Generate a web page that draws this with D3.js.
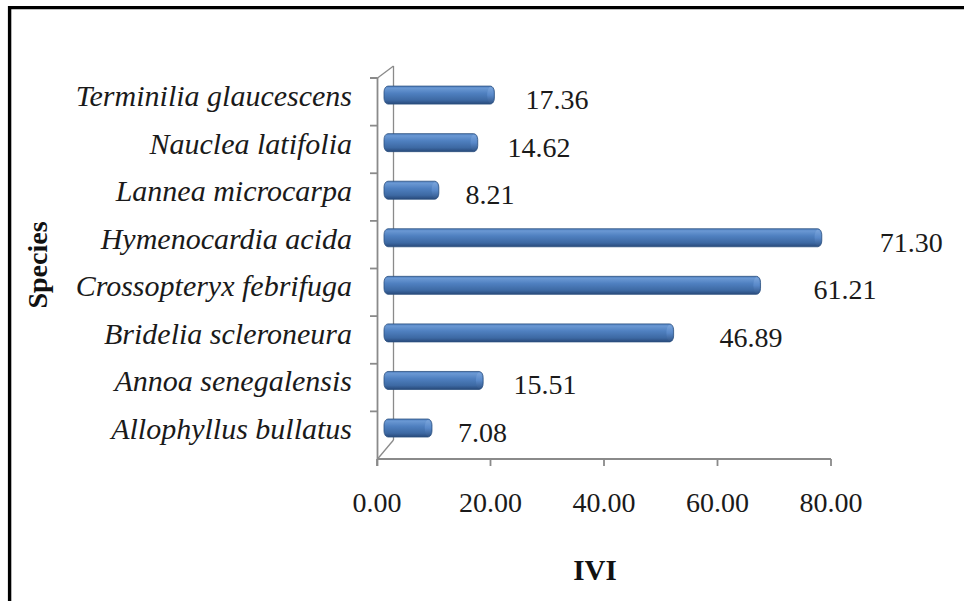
<!DOCTYPE html>
<html>
<head>
<meta charset="utf-8">
<script src="https://cdn.jsdelivr.net/npm/d3@7"></script>
<style>
  html, body { margin: 0; padding: 0; background: #fff; }
  svg { display: block; }
</style>
</head>
<body>
<svg id="chart" width="964" height="601"></svg>
<script>
// ---- data ----
const categories = [
  "Allophyllus bullatus",
  "Annoa senegalensis",
  "Bridelia scleroneura",
  "Crossopteryx febrifuga",
  "Hymenocardia acida",
  "Lannea microcarpa",
  "Nauclea latifolia",
  "Terminilia glaucescens"
];
const values = [7.08, 15.51, 46.89, 61.21, 71.30, 8.21, 14.62, 17.36];
const xTickValues = [0, 20, 40, 60, 80];
const xTickLabels = ["0.00", "20.00", "40.00", "60.00", "80.00"];
const xTitle = "IVI";
const yTitle = "Species";

// ---- layout ----
const svg = d3.select("#chart");
const serif = "'Liberation Serif', 'Times New Roman', serif";

// front (floor edge) scales for axes
const xAxisScale = d3.scaleLinear().domain([0, 80]).range([377, 831]);
const yAxisScale = d3.scaleBand().domain(categories).range([459, 78]);
// perspective plane for bars and data labels
const xBar = d3.scaleLinear().domain([0, 80]).range([389, 874.6]);
const xLabel = d3.scaleLinear().domain([0, 80]).range([411.5, 937]);
const yBar = d3.scaleBand().domain(categories).range([451.8, 71.3]);

// frame
svg.append("line").attr("x1", 8).attr("x2", 964).attr("y1", 7.6).attr("y2", 7.6)
  .attr("stroke", "#000").attr("stroke-width", 3.4);
svg.append("line").attr("x1", 9.6).attr("x2", 9.6).attr("y1", 6).attr("y2", 601)
  .attr("stroke", "#000").attr("stroke-width", 3.4);

// gradients
const defs = svg.append("defs");
const g1 = defs.append("linearGradient").attr("id", "barGrad")
  .attr("x1", 0).attr("y1", 0).attr("x2", 0).attr("y2", 1);
[["0%", "#4f7fbf"], ["12%", "#6a98d3"], ["40%", "#4f80c0"], ["78%", "#3d69a3"], ["100%", "#28497a"]]
  .forEach(([o, c]) => g1.append("stop").attr("offset", o).attr("stop-color", c));
const g2 = defs.append("linearGradient").attr("id", "capGrad")
  .attr("x1", 0).attr("y1", 0).attr("x2", 0).attr("y2", 1);
[["0%", "#7ea7dc"], ["50%", "#5b8bcc"], ["100%", "#35598b"]]
  .forEach(([o, c]) => g2.append("stop").attr("offset", o).attr("stop-color", c));

const axisColor = "#8a8a8a";
const topEdge = d3.min(yAxisScale.range());
const botEdge = d3.max(yAxisScale.range());

// back wall line + depth diagonals
svg.append("line").attr("x1", 393.5).attr("x2", 393.5).attr("y1", 66).attr("y2", 440)
  .attr("stroke", axisColor).attr("stroke-width", 1.3);
svg.append("line").attr("x1", 377.5).attr("y1", topEdge).attr("x2", 393.5).attr("y2", 66)
  .attr("stroke", axisColor).attr("stroke-width", 1.3);
svg.append("line").attr("x1", 377.5).attr("y1", botEdge).attr("x2", 393.5).attr("y2", 440)
  .attr("stroke", axisColor).attr("stroke-width", 1.3);

// left axis line and boundary ticks
svg.append("line").attr("x1", 377.5).attr("x2", 377.5).attr("y1", topEdge).attr("y2", botEdge + 7)
  .attr("stroke", axisColor).attr("stroke-width", 1.8);
const bounds = categories.map(c => yAxisScale(c)).concat([topEdge]);
svg.append("g").selectAll("line").data(bounds).join("line")
  .attr("x1", 370).attr("x2", 377.5).attr("y1", d => d).attr("y2", d => d)
  .attr("stroke", axisColor).attr("stroke-width", 1.8);

// x axis
svg.append("line").attr("x1", xAxisScale(0)).attr("x2", xAxisScale(80)).attr("y1", botEdge).attr("y2", botEdge)
  .attr("stroke", axisColor).attr("stroke-width", 1.8);
svg.append("g").selectAll("line").data(xTickValues).join("line")
  .attr("x1", d => xAxisScale(d)).attr("x2", d => xAxisScale(d))
  .attr("y1", botEdge).attr("y2", botEdge + 7)
  .attr("stroke", axisColor).attr("stroke-width", 1.8);
svg.append("g").selectAll("text").data(xTickValues).join("text")
  .attr("x", d => xAxisScale(d)).attr("y", 512)
  .attr("text-anchor", "middle")
  .attr("font-family", serif).attr("font-size", 28).attr("fill", "#1a1a1a")
  .text((d, i) => xTickLabels[i]);

// bars
const bh = 18;
const barG = svg.append("g");
categories.forEach((c, i) => {
  const cy = yBar(c) + yBar.bandwidth() / 2;
  const x0 = xBar(0) - 5;
  const x1 = xBar(values[i]);
  barG.append("rect")
    .attr("x", x0).attr("y", cy - bh / 2)
    .attr("width", x1 - x0).attr("height", bh)
    .attr("rx", 4).attr("ry", 6)
    .attr("fill", "url(#barGrad)")
    .attr("stroke", "#2c5180").attr("stroke-width", 0.8);
  barG.append("ellipse")
    .attr("cx", x1 - 4).attr("cy", cy)
    .attr("rx", 3.2).attr("ry", bh / 2 - 1)
    .attr("fill", "url(#capGrad)").attr("opacity", 0.85);
});

// value labels
svg.append("g").selectAll("text").data(categories).join("text")
  .attr("x", (c, i) => xLabel(values[i]))
  .attr("y", c => yBar(c) + yBar.bandwidth() / 2 + 14)
  .attr("font-family", serif).attr("font-size", 28).attr("fill", "#1a1a1a")
  .text((c, i) => values[i].toFixed(2));

// category labels
svg.append("g").selectAll("text").data(categories).join("text")
  .attr("x", 352)
  .attr("y", c => yBar(c) + yBar.bandwidth() / 2 + 11)
  .attr("text-anchor", "end")
  .attr("font-family", serif).attr("font-style", "italic").attr("font-size", 30).attr("fill", "#1a1a1a")
  .text(c => c);

// axis titles
svg.append("text").attr("x", 595).attr("y", 580).attr("text-anchor", "middle")
  .attr("font-family", serif).attr("font-weight", "bold").attr("font-size", 29).attr("fill", "#111")
  .text(xTitle);
svg.append("text").attr("transform", "translate(47,265) rotate(-90)").attr("text-anchor", "middle")
  .attr("font-family", serif).attr("font-weight", "bold").attr("font-size", 28).attr("fill", "#111")
  .text(yTitle);
</script>
</body>
</html>
